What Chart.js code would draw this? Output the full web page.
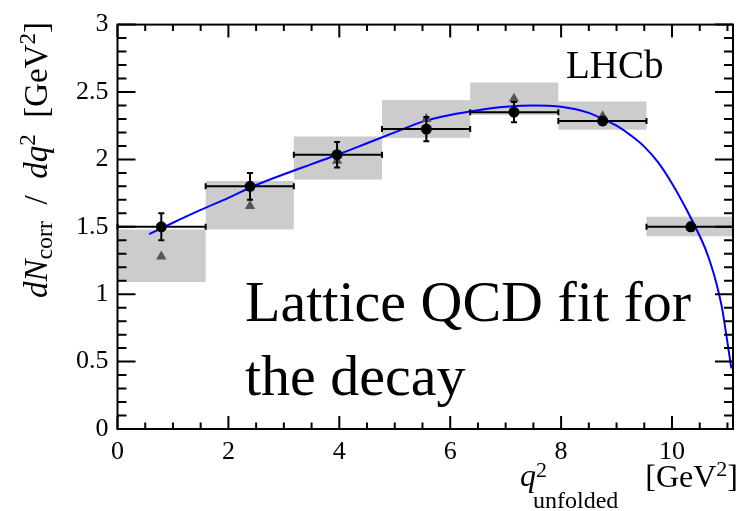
<!DOCTYPE html>
<html>
<head>
<meta charset="utf-8">
<script src="https://cdn.jsdelivr.net/npm/chart.js@4.4.1/dist/chart.umd.min.js"></script>
<style>
  html, body { margin: 0; padding: 0; background: #fff; }
  #wrap { position: relative; width: 739px; height: 511px; }
</style>
</head>
<body>
<div id="wrap"><canvas id="c" width="739" height="511"></canvas></div>
<script>
// values
const binLo     = [0, 1.59, 3.18, 4.77, 6.36, 7.95, 9.54];
const binHi     = [1.59, 3.18, 4.77, 6.36, 7.95, 9.54, 11.1];
const binCenter = [0.79, 2.39, 3.96, 5.57, 7.15, 8.75, 10.34];
const dataY     = [1.50, 1.80, 2.035, 2.225, 2.35, 2.285, 1.50];
const dataErr   = [0.10, 0.10, 0.095, 0.09, 0.075, 0.03, 0.03];
const boxLow    = [1.09, 1.48, 1.85, 2.16, 2.33, 2.22, 1.43];
const boxHigh   = [1.48, 1.84, 2.17, 2.44, 2.57, 2.43, 1.575];
const triY      = [1.28, 1.655, 1.99, 2.30, 2.45, 2.32, 1.50];

// lattice QCD fit curve
const fitX = [0.57, 1.0, 1.5, 2.0, 2.5, 3.0, 3.5, 4.0, 4.5, 5.0, 5.5, 6.0, 6.5, 7.0, 7.5,
              8.0, 8.5, 8.75, 9.0, 9.25, 9.5, 9.75, 10.0, 10.25, 10.5, 10.6, 10.7, 10.8, 10.9, 11.0, 11.07];
const fitY = [1.446, 1.53, 1.625, 1.715, 1.81, 1.89, 1.965, 2.04, 2.12, 2.20, 2.28, 2.33, 2.365, 2.39, 2.40,
              2.39, 2.345, 2.30, 2.25, 2.18, 2.095, 1.978, 1.822, 1.638, 1.432, 1.338, 1.222, 1.082, 0.902, 0.642, 0.45];

const xTicks = [0, 2, 4, 6, 8, 10];
const yTicks = [0, 0.5, 1, 1.5, 2, 2.5, 3];

const SERIF = '"Liberation Serif", "DejaVu Serif", serif';

function drawParts(ctx, parts, x, y) {
  // parts: [text, font, baseline shift]
  let cx = x;
  for (const [txt, font, dy] of parts) {
    ctx.font = font;
    ctx.fillText(txt, cx, y + dy);
    cx += ctx.measureText(txt).width;
  }
  return cx - x;
}

function partsWidth(ctx, parts) {
  let w = 0;
  for (const [txt, font] of parts) {
    ctx.font = font;
    w += ctx.measureText(txt).width;
  }
  return w;
}

const decorPlugin = {
  id: 'lhcbDecor',
  beforeDatasetsDraw(chart) {
    const { ctx, chartArea: a, scales: { x, y } } = chart;
    ctx.save();
    ctx.beginPath();
    ctx.rect(a.left, a.top, a.right - a.left, a.bottom - a.top);
    ctx.clip();
    ctx.fillStyle = '#cccccc';
    for (let i = 0; i < binLo.length; i++) {
      const x0 = x.getPixelForValue(binLo[i]);
      const x1 = x.getPixelForValue(binHi[i]);
      const y0 = y.getPixelForValue(boxHigh[i]);
      const y1 = y.getPixelForValue(boxLow[i]);
      ctx.fillRect(x0, y0, x1 - x0, y1 - y0);
    }
    ctx.restore();
  },
  afterDatasetsDraw(chart) {
    const { ctx, chartArea: a, scales: { x, y } } = chart;
    ctx.save();

    // error bars
    ctx.strokeStyle = '#000';
    ctx.lineWidth = 2;
    for (let i = 0; i < binCenter.length; i++) {
      const px = x.getPixelForValue(binCenter[i]);
      const py = y.getPixelForValue(dataY[i]);
      const xl = x.getPixelForValue(binLo[i]);
      const xr = x.getPixelForValue(binHi[i]);
      const yt = y.getPixelForValue(dataY[i] + dataErr[i]);
      const yb = y.getPixelForValue(dataY[i] - dataErr[i]);
      ctx.beginPath();
      ctx.moveTo(xl, py); ctx.lineTo(xr, py);
      ctx.moveTo(xl, py - 3); ctx.lineTo(xl, py + 3);
      ctx.moveTo(xr, py - 3); ctx.lineTo(xr, py + 3);
      ctx.moveTo(px, yt); ctx.lineTo(px, yb);
      ctx.moveTo(px - 3, yt); ctx.lineTo(px + 3, yt);
      ctx.moveTo(px - 3, yb); ctx.lineTo(px + 3, yb);
      ctx.stroke();
    }

    // frame and inward ticks (ROOT style)
    ctx.lineWidth = 2;
    ctx.strokeRect(a.left, a.top, a.right - a.left, a.bottom - a.top);
    ctx.beginPath();
    for (let v = 0; v <= x.max + 1e-9; v += 0.5) {
      const px = x.getPixelForValue(v);
      const len = Math.abs(v / 2 - Math.round(v / 2)) < 1e-6 ? 13 : 6.5;
      ctx.moveTo(px, a.bottom); ctx.lineTo(px, a.bottom - len);
      ctx.moveTo(px, a.top); ctx.lineTo(px, a.top + len);
    }
    for (let k = 0; k <= 30; k++) {
      const v = k / 10;
      const py = y.getPixelForValue(v);
      const len = k % 5 === 0 ? 18 : 9;
      ctx.moveTo(a.left, py); ctx.lineTo(a.left + len, py);
      ctx.moveTo(a.right, py); ctx.lineTo(a.right - len, py);
    }
    ctx.stroke();

    // annotations
    ctx.fillStyle = '#000';
    ctx.textBaseline = 'alphabetic';
    ctx.textAlign = 'left';
    ctx.font = '39px ' + SERIF;
    ctx.fillText('LHCb', 566, 78);
    ctx.font = '58px ' + SERIF;
    ctx.fillText('Lattice QCD fit for', 245, 321);
    ctx.fillText('the decay', 245, 395);

    // x axis title
    drawParts(ctx, [['q', 'italic 32px ' + SERIF, 0], ['2', '22px ' + SERIF, -9]], 520, 486);
    drawParts(ctx, [['unfolded', '24px ' + SERIF, 0]], 533, 508);
    const gevParts = [['[GeV', '32px ' + SERIF, 0], ['2', '22px ' + SERIF, -11], [']', '32px ' + SERIF, 0]];
    drawParts(ctx, gevParts, 738 - partsWidth(ctx, gevParts), 487);

    // y axis title, rotated
    const yParts = [
      ['d', 'italic 33px ' + SERIF, 0],
      ['N', 'italic 33px ' + SERIF, 0],
      ['corr', '24px ' + SERIF, 5],
      ['  /  ', '33px ' + SERIF, 0],
      ['dq', 'italic 33px ' + SERIF, 0],
      ['2', '23px ' + SERIF, -12],
      ['  [GeV', '33px ' + SERIF, 0],
      ['2', '23px ' + SERIF, -12],
      [']', '33px ' + SERIF, 0]
    ];
    const total = partsWidth(ctx, yParts);
    ctx.translate(47, 22 + total);
    ctx.rotate(-Math.PI / 2);
    drawParts(ctx, yParts, 0, 0);

    ctx.restore();
  }
};

new Chart(document.getElementById('c'), {
  type: 'scatter',
  data: {
    datasets: [
      {
        label: 'data',
        data: binCenter.map((v, i) => ({ x: v, y: dataY[i] })),
        pointRadius: 5.5,
        pointBackgroundColor: '#000',
        pointBorderWidth: 0,
        order: 0
      },
      {
        label: 'triangles',
        data: binCenter.map((v, i) => ({ x: v, y: triY[i] })),
        pointStyle: 'triangle',
        pointRadius: 6,
        pointBackgroundColor: '#555555',
        pointBorderWidth: 0,
        order: 1
      },
      {
        label: 'fit',
        type: 'line',
        data: fitX.map((v, i) => ({ x: v, y: fitY[i] })),
        borderColor: '#0000ff',
        borderWidth: 2,
        pointRadius: 0,
        fill: false,
        cubicInterpolationMode: 'monotone',
        order: 2
      }
    ]
  },
  options: {
    responsive: false,
    animation: false,
    layout: { padding: { top: 23, right: 1, left: 0, bottom: 0 } },
    plugins: { legend: { display: false }, tooltip: { enabled: false } },
    scales: {
      x: {
        type: 'linear',
        min: 0,
        max: 11.1,
        afterBuildTicks: s => { s.ticks = xTicks.map(v => ({ value: v })); },
        afterFit: s => { s.height = 82; },
        grid: { display: false, drawTicks: false },
        border: { display: false },
        ticks: {
          color: '#000',
          font: { family: SERIF, size: 26 },
          padding: 8,
          maxRotation: 0,
          autoSkip: false,
          callback: v => String(v)
        }
      },
      y: {
        type: 'linear',
        min: 0,
        max: 3,
        afterBuildTicks: s => { s.ticks = yTicks.map(v => ({ value: v })); },
        afterFit: s => { s.width = 117.5; },
        grid: { display: false, drawTicks: false },
        border: { display: false },
        ticks: {
          color: '#000',
          font: { family: SERIF, size: 26 },
          padding: 9,
          autoSkip: false,
          callback: v => String(v)
        }
      }
    }
  },
  plugins: [decorPlugin]
});
</script>
</body>
</html>
